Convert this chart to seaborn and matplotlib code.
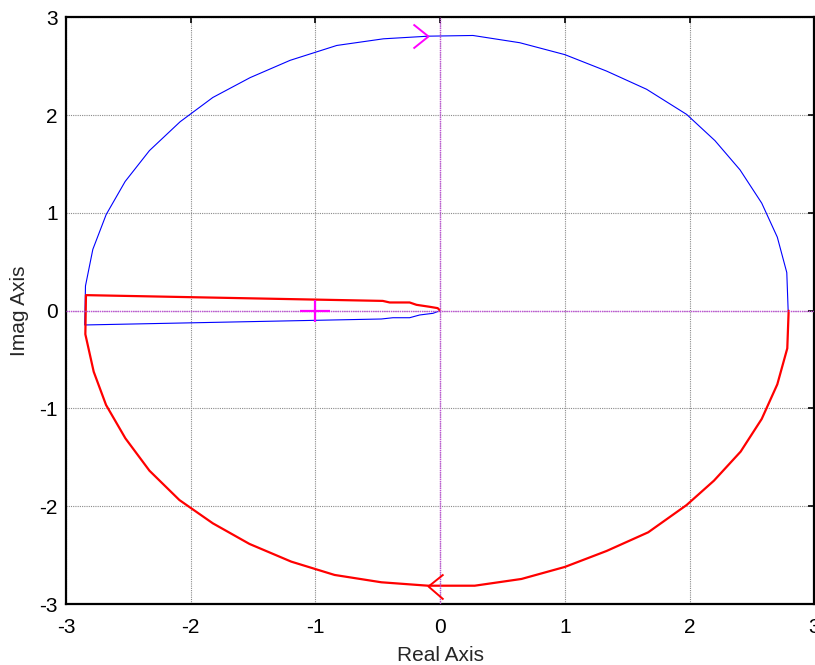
import matplotlib
matplotlib.use("Agg")
import matplotlib.pyplot as plt
from matplotlib.path import Path
import seaborn as sns
import pandas as pd

# ---- data ----
blue_x = [0.0, -0.058, -0.165, -0.245, -0.379, -0.472, -2.85, -2.844, -2.785, -2.678,
          -2.526, -2.331, -2.085, -1.823, -1.524, -1.203, -0.829, -0.455, -0.094, 0.263,
          0.638, 1.0, 1.334, 1.655, 1.976, 2.203, 2.404, 2.578, 2.703, 2.779, 2.79]
blue_y = [0.0, -0.027, -0.044, -0.072, -0.072, -0.085, -0.146, 0.253, 0.627, 0.983,
          1.321, 1.637, 1.932, 2.18, 2.383, 2.56, 2.712, 2.78, 2.807, 2.814,
          2.74, 2.618, 2.45, 2.264, 2.007, 1.739, 1.44, 1.10, 0.752, 0.39, 0.0]

red_x = [2.794, 2.783, 2.703, 2.578, 2.409, 2.195, 1.976, 1.668, 1.334, 1.0,
         0.652, 0.277, -0.098, -0.472, -0.847, -1.194, -1.529, -1.823, -2.091, -2.331,
         -2.524, -2.679, -2.778, -2.845, -2.84, -0.46, -0.405, -0.245, -0.19, -0.085,
         -0.02, 0.0]
red_y = [0.0, -0.385, -0.753, -1.107, -1.441, -1.738, -1.987, -2.266, -2.457, -2.62,
         -2.743, -2.812, -2.812, -2.777, -2.702, -2.566, -2.385, -2.174, -1.936, -1.636,
         -1.305, -0.964, -0.624, -0.241, 0.159, 0.1, 0.084, 0.084, 0.06, 0.04,
         0.026, 0.0]

arrow_up = (-0.094, 2.807)     # direction arrow on the positive-frequency branch
arrow_down = (-0.098, -2.812)  # direction arrow on the negative-frequency branch
critical_point = (-1.0, 0.0)

ticks = [-3, -2, -1, 0, 1, 2, 3]
tick_labels = ["-3", "-2", "-1", "0", "1", "2", "3"]

# ---- style ----
sns.set_style("white")
plt.rcParams["font.family"] = ["Liberation Sans", "DejaVu Sans"]

fig = plt.figure(figsize=(8.15, 6.65), dpi=100)
ax = fig.add_axes([0.081, 0.0916, 0.9182, 0.8824])

blue_df = pd.DataFrame({"x": blue_x, "y": blue_y})
red_df = pd.DataFrame({"x": red_x, "y": red_y})

sns.lineplot(data=blue_df, x="x", y="y", sort=False, estimator=None, ax=ax,
             color="#0000ff", linewidth=0.8, zorder=3)
sns.lineplot(data=red_df, x="x", y="y", sort=False, estimator=None, ax=ax,
             color="#ff0000", linewidth=1.6, zorder=3)

# zero lines (magenta dotted)
ax.axhline(0, color="#c050d8", linewidth=1.0, linestyle=(0, (1, 0.6)), zorder=4)
ax.axvline(0, color="#c050d8", linewidth=1.0, linestyle=(0, (1, 0.6)), zorder=4)

# chevron arrow markers
right_chev = Path([(-15, 12), (0, 0), (-15, -12)], [Path.MOVETO, Path.LINETO, Path.LINETO])
left_chev = Path([(15, 12), (0, 0), (15, -13)], [Path.MOVETO, Path.LINETO, Path.LINETO])
ax.plot([arrow_up[0]], [arrow_up[1]], marker=right_chev, markersize=21.6,
        markerfacecolor="none", markeredgecolor="#ff00ff", markeredgewidth=1.4,
        linestyle="none", zorder=5)
ax.plot([arrow_down[0]], [arrow_down[1]], marker=left_chev, markersize=21.6,
        markerfacecolor="none", markeredgecolor="#ff0000", markeredgewidth=1.4,
        linestyle="none", zorder=5)

plus = Path([(-15, 0), (15, 0), (0, -11), (0, 11)],
            [Path.MOVETO, Path.LINETO, Path.MOVETO, Path.LINETO])
ax.plot([critical_point[0]], [critical_point[1]], marker=plus, markersize=21.6,
        markeredgecolor="#ff00ff", markeredgewidth=1.6, linestyle="none", zorder=6)

ax.set_xlim(-3, 3)
ax.set_ylim(-3, 3)
ax.set_xticks(ticks)
ax.set_xticklabels(tick_labels)
ax.set_yticks(ticks)
ax.set_yticklabels(tick_labels)

ax.grid(True, color="#8a8a8a", linestyle=(0, (1, 1)), linewidth=0.8)
ax.set_axisbelow(True)

for side, sp in ax.spines.items():
    sp.set_visible(True)
    sp.set_color("black")
    sp.set_linewidth(1.6)

ax.tick_params(axis="both", which="both", direction="in", length=4, width=1.2,
               colors="black", labelsize=15, top=True, right=True,
               labeltop=False, labelright=False)
ax.tick_params(axis="x", pad=10)
ax.tick_params(axis="y", pad=6)

ax.set_xlabel("Real Axis", fontsize=15, labelpad=6.5)
ax.set_ylabel("Imag Axis", fontsize=15, labelpad=7)

fig.savefig("out.png", dpi=100)
